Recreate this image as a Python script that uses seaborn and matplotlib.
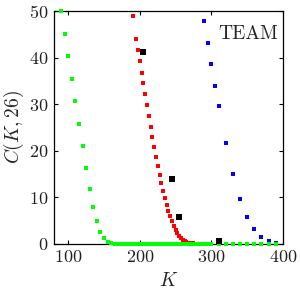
import numpy as np
import pandas as pd
import matplotlib
matplotlib.use('Agg')
import matplotlib.pyplot as plt
import seaborn as sns

# green series
k_green = [90, 95, 100, 105, 110, 115, 120, 125, 130, 135, 140, 145, 150, 155, 160, 165,
           170, 175, 180, 185, 190, 195, 200, 205, 210, 215, 220, 225, 230, 235, 240, 245,
           250, 255, 260, 265, 270, 275, 280, 285, 290, 295, 300,
           310, 320, 330, 340, 350, 360, 370, 380, 390]
c_green = [50.0, 45.1, 40.3, 35.5, 30.7, 25.8, 21.0, 16.2, 11.8, 7.9, 4.9, 2.6, 1.2, 0.4, 0.12, 0.04,
           0, 0, 0, 0, 0, 0, 0, 0, 0, 0, 0, 0, 0, 0, 0, 0,
           0, 0, 0, 0, 0, 0, 0, 0, 0, 0, 0,
           0, 0, 0, 0, 0, 0, 0, 0, 0]

# red series
k_red = [190, 195, 197.5, 200, 202.5, 205, 207.5, 210, 212.5, 215, 217.5, 220, 222.5, 225,
         227.5, 230, 232.5, 235, 237.5, 240, 242.5, 245, 247.5, 250, 252.5, 255, 257.5, 260,
         262.5, 265, 267.5, 270, 272.5, 275, 277.5, 280, 282.5, 285, 287.5, 290, 292.5, 295, 297.5, 300]
c_red = [48.9, 44.0, 41.6, 39.2, 36.8, 34.5, 32.1, 29.8, 27.5, 25.2, 23.0, 20.8, 18.7, 16.7,
         14.9, 13.0, 11.4, 9.9, 8.4, 7.1, 6.0, 4.9, 3.9, 3.0, 2.3, 1.7, 1.2, 0.9,
         0.6, 0.4, 0.3, 0.2, 0.15, 0.1, 0.07, 0.05, 0.03, 0.02, 0.01, 0, 0, 0, 0, 0]

# blue series
k_blue = [290, 295, 300, 305, 310, 320, 330, 340, 350, 360, 370, 380, 390]
c_blue = [47.9, 43.1, 38.6, 34.0, 29.7, 21.7, 15.0, 9.7, 5.8, 3.2, 1.5, 0.6, 0.2]

# black points
k_black = [205, 245, 255, 310]
c_black = [41.2, 13.9, 5.7, 0.6]

sns.set_style('ticks')
plt.rcParams['font.family'] = 'serif'
plt.rcParams['font.serif'] = ['cmr10']
plt.rcParams['mathtext.fontset'] = 'cm'
plt.rcParams['axes.formatter.use_mathtext'] = True

fig = plt.figure(figsize=(3, 3), dpi=100)
ax = fig.add_axes([0.18, 0.187, 0.763, 0.776])

df_red = pd.DataFrame({'K': k_red, 'C': c_red})
df_blue = pd.DataFrame({'K': k_blue, 'C': c_blue})
df_green = pd.DataFrame({'K': k_green, 'C': c_green})
df_black = pd.DataFrame({'K': k_black, 'C': c_black})

sns.scatterplot(data=df_red, x='K', y='C', marker='s', color='#ff0000', s=6,
                linewidth=0, ax=ax, clip_on=False, zorder=3)
sns.scatterplot(data=df_blue, x='K', y='C', marker='s', color='#0000ff', s=6,
                linewidth=0, ax=ax, clip_on=False, zorder=3)
sns.scatterplot(data=df_green, x='K', y='C', marker='s', color='#00ff00', s=9,
                linewidth=0, ax=ax, clip_on=False, zorder=4)
sns.scatterplot(data=df_black, x='K', y='C', marker='s', color='black', s=13,
                linewidth=0, ax=ax, clip_on=False, zorder=5)

ax.set_xlim(80, 400)
ax.set_ylim(0, 50)
ax.set_xticks([100, 200, 300, 400])
ax.set_yticks([0, 10, 20, 30, 40, 50])
ax.tick_params(direction='in', top=True, right=True, length=3, width=0.8,
               labelsize=13, colors='black', labelcolor='#222222', pad=4)
for sp in ax.spines.values():
    sp.set_linewidth(0.9)
    sp.set_color('black')

ax.set_xlabel('$K$', fontsize=14, labelpad=5)
ax.set_ylabel('$C(K,26)$', fontsize=14, labelpad=2)
ax.text(0.98, 0.9, 'TEAM', transform=ax.transAxes, ha='right', va='center',
        fontsize=14)

fig.savefig('out.png', dpi=100)
